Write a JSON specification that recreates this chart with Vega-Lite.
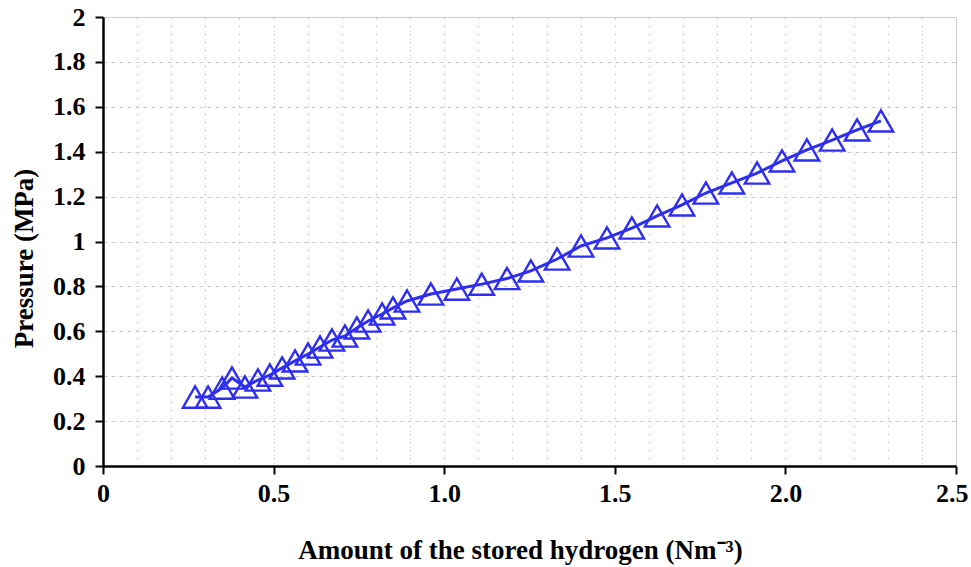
{
  "$schema": "https://vega.github.io/schema/vega-lite/v6.json",
  "width": 853,
  "height": 449,
  "autosize": {"type": "none"},
  "padding": {"left": 103, "top": 17, "right": 15, "bottom": 101},
  "background": "white",
  "config": {
    "view": {"stroke": "#cccccc", "strokeWidth": 1},
    "axis": {
      "labelFont": "Liberation Serif",
      "labelFontWeight": "bold",
      "labelFontSize": 26,
      "labelColor": "black",
      "titleFont": "Liberation Serif",
      "titleFontWeight": "bold",
      "titleFontSize": 27,
      "titleColor": "black",
      "domainColor": "black",
      "domainWidth": 2.5,
      "tickColor": "black",
      "tickWidth": 2,
      "tickSize": 8
    }
  },
  "data": {
    "values": [
      {"h": 0.270, "p": 0.307}, {"h": 0.308, "p": 0.307}, {"h": 0.349, "p": 0.347},
      {"h": 0.378, "p": 0.392}, {"h": 0.416, "p": 0.352}, {"h": 0.454, "p": 0.383},
      {"h": 0.489, "p": 0.405}, {"h": 0.525, "p": 0.437}, {"h": 0.563, "p": 0.468},
      {"h": 0.601, "p": 0.499}, {"h": 0.636, "p": 0.530}, {"h": 0.671, "p": 0.561},
      {"h": 0.709, "p": 0.579}, {"h": 0.744, "p": 0.615}, {"h": 0.777, "p": 0.646},
      {"h": 0.818, "p": 0.677}, {"h": 0.850, "p": 0.704}, {"h": 0.891, "p": 0.735},
      {"h": 0.961, "p": 0.766}, {"h": 1.037, "p": 0.788}, {"h": 1.110, "p": 0.810},
      {"h": 1.184, "p": 0.835}, {"h": 1.254, "p": 0.869}, {"h": 1.331, "p": 0.922},
      {"h": 1.401, "p": 0.980}, {"h": 1.477, "p": 1.016}, {"h": 1.550, "p": 1.060},
      {"h": 1.624, "p": 1.114}, {"h": 1.697, "p": 1.163}, {"h": 1.767, "p": 1.216},
      {"h": 1.843, "p": 1.261}, {"h": 1.917, "p": 1.305}, {"h": 1.990, "p": 1.359},
      {"h": 2.063, "p": 1.408}, {"h": 2.137, "p": 1.452}, {"h": 2.210, "p": 1.497},
      {"h": 2.280, "p": 1.537}
    ]
  },
  "encoding": {
    "x": {
      "field": "h", "type": "quantitative",
      "scale": {"domain": [0, 2.5], "nice": false, "zero": false},
      "axis": {
        "orient": "bottom",
        "values": [0, 0.1, 0.2, 0.3, 0.4, 0.5, 0.6, 0.7, 0.8, 0.9, 1.0, 1.1, 1.2, 1.3, 1.4, 1.5, 1.6, 1.7, 1.8, 1.9, 2.0, 2.1, 2.2, 2.3, 2.4, 2.5],
        "grid": true, "gridColor": "#c8c8c8", "gridDash": [2, 6], "gridWidth": 1.2,
        "gridOpacity": {"condition": {"test": "datum.value > 2.45 || datum.value < 0.05", "value": 0}, "value": 1},
        "tickOpacity": {"condition": {"test": "abs(datum.value * 2 - round(datum.value * 2)) < 0.001", "value": 1}, "value": 0},
        "labelExpr": "abs(datum.value * 2 - round(datum.value * 2)) < 0.001 ? (datum.value == 0 ? '0' : format(datum.value, '.1f')) : ''",
        "labelPadding": 6,
        "labelFlush": false,
        "labelOverlap": false,
        "labelAlign": {"condition": {"test": "datum.value > 2.45", "value": "right"}, "value": "center"},
        "labelOffset": {"condition": {"test": "datum.value > 2.45", "value": 12}, "value": 0},
        "title": "Amount  of the stored hydrogen (Nm⁻³)",
        "titleX": 417, "titleY": 84, "titleBaseline": "middle"
      }
    },
    "y": {
      "field": "p", "type": "quantitative",
      "scale": {"domain": [0, 2], "nice": false},
      "axis": {
        "values": [0, 0.2, 0.4, 0.6, 0.8, 1, 1.2, 1.4, 1.6, 1.8, 2],
        "format": "~g",
        "grid": true, "gridColor": "#c8c8c8", "gridDash": [4, 4], "gridWidth": 1.2,
        "labelPadding": 10,
        "labelFlush": false,
        "title": "Pressure (MPa)",
        "titleX": -79, "titleY": 241, "titleBaseline": "middle", "titleAngle": -90
      }
    }
  },
  "layer": [
    {
      "mark": {"type": "line", "color": "#2e2ef0", "strokeWidth": 3}
    },
    {
      "mark": {"type": "point", "shape": "triangle-up", "filled": false, "color": "#2e2ef0", "strokeWidth": 2.4, "size": 600, "opacity": 1}
    }
  ]
}
